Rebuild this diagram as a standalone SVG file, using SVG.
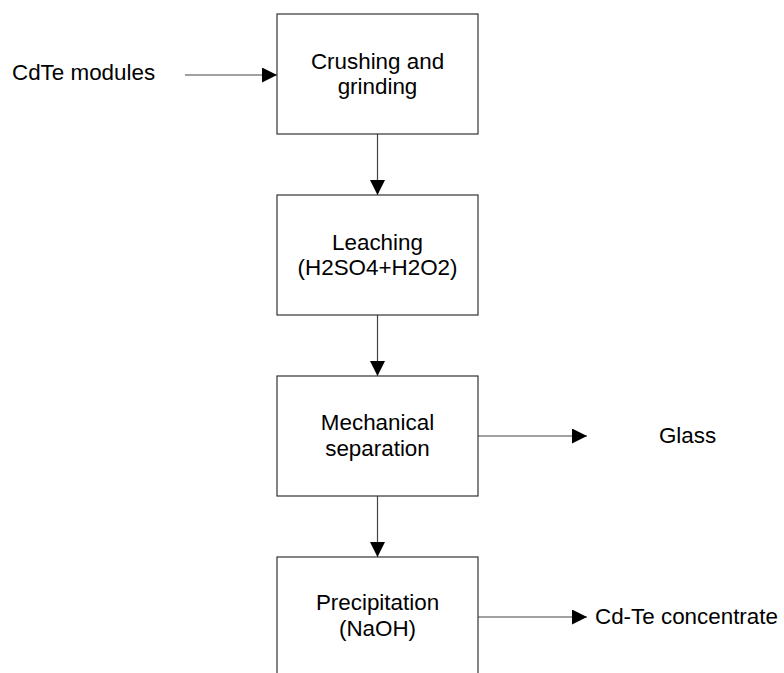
<svg xmlns="http://www.w3.org/2000/svg" width="784" height="673" viewBox="0 0 784 673">
<defs>
<marker id="ah" markerWidth="15" markerHeight="15" viewBox="0 0 15 15" refX="15" refY="7.5" orient="auto" markerUnits="userSpaceOnUse">
<path d="M0,0 L15,7.5 L0,15 Z" fill="#000"/>
</marker>
</defs>
<style>
.box{fill:#fff;stroke:#333;stroke-width:1.2}
.t{font-family:"Liberation Sans",Arial,sans-serif;font-size:22.4px;fill:#000}
.c{text-anchor:middle}
.ln{stroke:#444;stroke-width:1.2;fill:none;marker-end:url(#ah)}
</style>
<rect width="784" height="673" fill="#fff"/>
<g id="connectors">
<line class="ln" x1="185" y1="75" x2="277" y2="75"/>
<line class="ln" x1="377.5" y1="134" x2="377.5" y2="195"/>
<line class="ln" x1="377.5" y1="315" x2="377.5" y2="376"/>
<line class="ln" x1="377.5" y1="496" x2="377.5" y2="557"/>
<line class="ln" x1="478" y1="436" x2="587" y2="436"/>
<line class="ln" x1="478" y1="617" x2="587" y2="617"/>
</g>
<g id="input"><text class="t" x="12" y="80">CdTe modules</text></g>
<g id="crushing">
<rect class="box" x="277" y="14" width="201" height="120"/>
<text class="t c" x="377.5" y="69">Crushing and</text>
<text class="t c" x="377.5" y="94">grinding</text>
</g>
<g id="leaching">
<rect class="box" x="277" y="195" width="201" height="120"/>
<text class="t c" x="377.5" y="250">Leaching</text>
<text class="t c" x="377.5" y="275">(H2SO4+H2O2)</text>
</g>
<g id="separation">
<rect class="box" x="277" y="376" width="201" height="120"/>
<text class="t c" x="377.5" y="430">Mechanical</text>
<text class="t c" x="377.5" y="456">separation</text>
</g>
<g id="precipitation">
<rect class="box" x="277" y="557" width="201" height="130"/>
<text class="t c" x="377.5" y="610">Precipitation</text>
<text class="t c" x="377.5" y="636">(NaOH)</text>
</g>
<g id="glass"><text class="t c" x="687.5" y="443">Glass</text></g>
<g id="concentrate"><text class="t" x="595" y="624">Cd-Te concentrate</text></g>
</svg>
